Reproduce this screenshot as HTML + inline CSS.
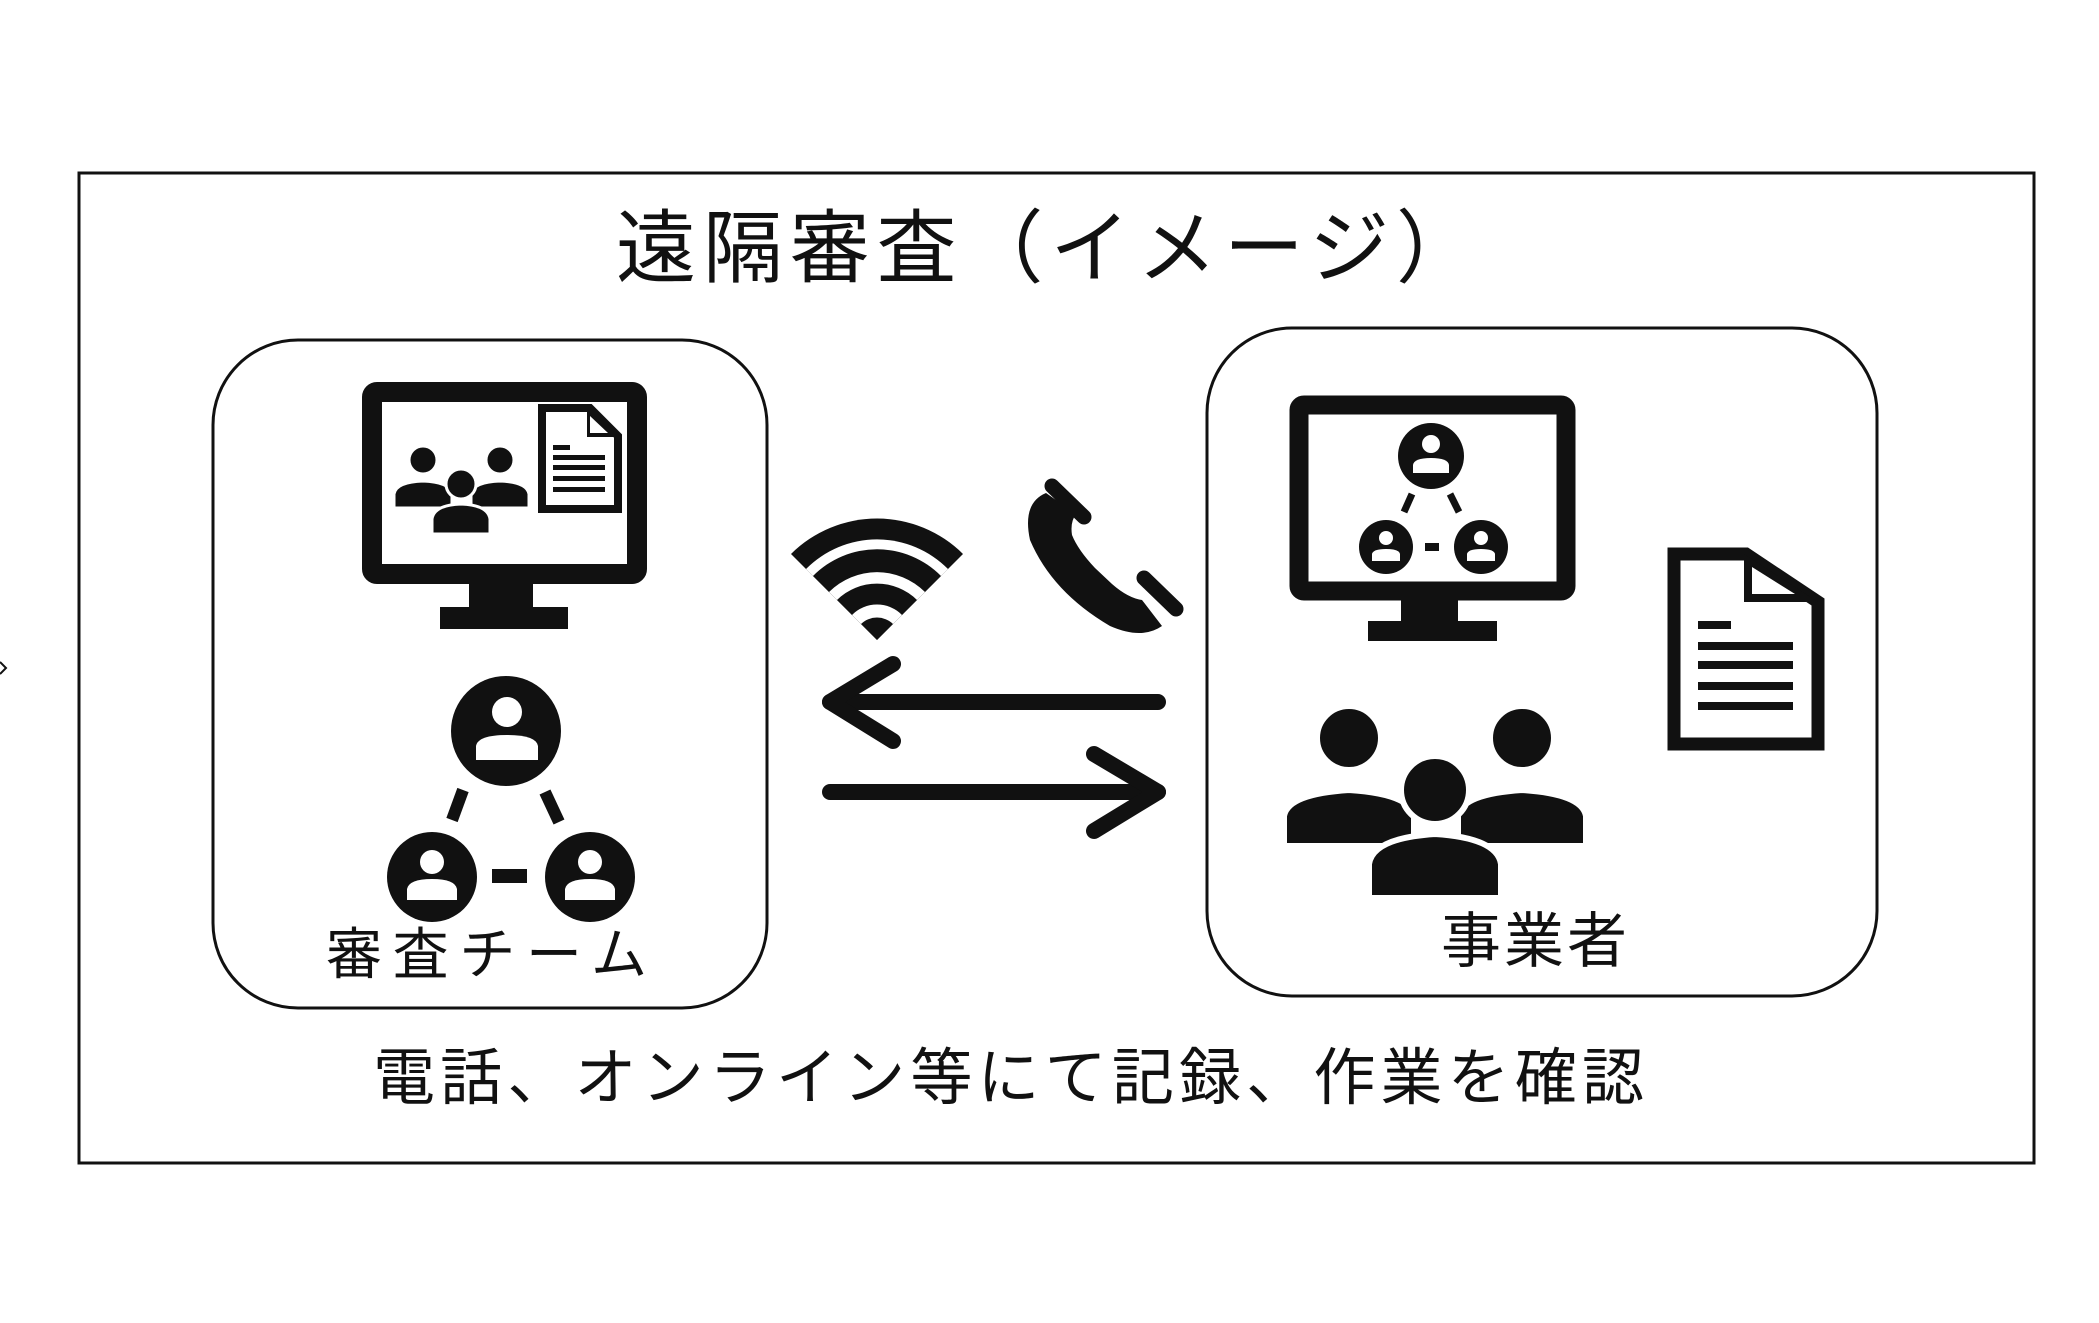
<!DOCTYPE html>
<html><head><meta charset="utf-8"><style>
html,body{margin:0;padding:0;background:#fff;}
svg{display:block;}
text{font-family:"Liberation Sans","Noto Sans CJK JP",sans-serif;fill:#111;}
</style></head><body>
<svg width="2099" height="1323" viewBox="0 0 2099 1323" xmlns="http://www.w3.org/2000/svg">
<rect x="0" y="0" width="2099" height="1323" fill="#fff"/>
<rect x="79" y="173" width="1955" height="990" fill="none" stroke="#111" stroke-width="3"/>
<path d="M0,662 L6,668 L0,674" fill="none" stroke="#111" stroke-width="2"/>
<text x="616" y="276" font-size="80" textLength="860" lengthAdjust="spacing">遠隔審査（イメージ）</text>

<rect x="213" y="340" width="554" height="668" rx="85" fill="none" stroke="#111" stroke-width="3"/>
<rect x="372" y="392" width="265" height="182" rx="5" fill="none" stroke="#111" stroke-width="20"/>
<rect x="469" y="583" width="64" height="26" fill="#111"/>
<rect x="440" y="607" width="128" height="22" fill="#111"/>
<path d="M542,408 L590,408 L618,436 L618,509 L542,509 Z" fill="#fff" stroke="#111" stroke-width="8"/>
<path d="M587,408 L587,437 L618,437 Z" fill="#111"/>
<path d="M590,416 L590,433 L608,433 Z" fill="#fff"/>
<g fill="#111"><rect x="553" y="445" width="17" height="5"/><rect x="553" y="455" width="52" height="5"/><rect x="553" y="465" width="52" height="5"/><rect x="553" y="476" width="52" height="5"/><rect x="553" y="487" width="52" height="5"/></g>
<g fill="#111" stroke="#fff" stroke-width="3">
<circle cx="423" cy="460" r="14"/><path d="M394,508 L394,494 Q396,482 423,481 Q450,482 452,494 L452,508 Z"/>
<circle cx="500" cy="460" r="14"/><path d="M471,508 L471,494 Q473,482 500,481 Q527,482 529,494 L529,508 Z"/>
<circle cx="461" cy="484" r="15"/><path d="M432,534 L432,519 Q434,505 461,504 Q488,505 490,519 L490,534 Z"/>
</g>
<g fill="#111">
<circle cx="506" cy="731" r="55"/><circle cx="432" cy="877" r="45"/><circle cx="590" cy="877" r="45"/>
<rect x="492" y="869" width="35" height="14"/>
</g>
<g stroke="#111" stroke-width="12"><line x1="463" y1="790" x2="452" y2="820"/><line x1="545" y1="792" x2="559" y2="822"/></g>
<g fill="#fff">
<circle cx="507" cy="712" r="15"/><path d="M476,760 L476,746 Q478,735 507,735 Q536,735 538,746 L538,760 Z"/>
<circle cx="432" cy="862" r="12"/><path d="M407,900 L407,889 Q409,879 432,879 Q455,879 457,889 L457,900 Z"/>
<circle cx="590" cy="862" r="12"/><path d="M565,900 L565,889 Q567,879 590,879 Q613,879 615,889 L615,900 Z"/>
</g>
<text x="326" y="974" font-size="56" textLength="321" lengthAdjust="spacing">審査チーム</text>

<path d="M877,640 L791,554 A122,122 0 0 1 963,554 Z" fill="#111"/>
<path d="M877,640 L806,569 A100,100 0 0 1 948,569 Z" fill="#fff"/>
<path d="M877,640 L813,576 A90,90 0 0 1 941,576 Z" fill="#111"/>
<path d="M877,640 L829,592 A68,68 0 0 1 925,592 Z" fill="#fff"/>
<path d="M877,640 L837,600 A57,57 0 0 1 917,600 Z" fill="#111"/>
<path d="M877,640 L852,615 A35,35 0 0 1 902,615 Z" fill="#fff"/>
<path d="M877,640 L861,624 A23,23 0 0 1 893,624 Z" fill="#111"/>

<path d="M1046,493 Q1022,503 1030,540 Q1052,592 1110,626 Q1142,640 1162,626 L1142,600 Q1128,598 1112,584 L1095,568 Q1078,550 1072,535 Q1070,522 1076,514 Z" fill="#111"/>
<line x1="1052" y1="486" x2="1084" y2="517" stroke="#111" stroke-width="15" stroke-linecap="round"/>
<line x1="1144" y1="578" x2="1176" y2="609" stroke="#111" stroke-width="15" stroke-linecap="round"/>

<g stroke="#111" stroke-width="16" stroke-linecap="round" stroke-linejoin="round" fill="none">
<line x1="830" y1="702" x2="1158" y2="702"/>
<polyline points="893,664 830,702 893,741"/>
<line x1="830" y1="792" x2="1158" y2="792"/>
<polyline points="1094,754 1158,792 1094,831"/>
</g>

<rect x="1207" y="328" width="670" height="668" rx="85" fill="none" stroke="#111" stroke-width="3"/>
<rect x="1299" y="405" width="267" height="186" rx="5" fill="none" stroke="#111" stroke-width="19"/>
<rect x="1401" y="599" width="57" height="24" fill="#111"/>
<rect x="1368" y="621" width="129" height="20" fill="#111"/>
<g fill="#111">
<circle cx="1431" cy="456" r="33"/><circle cx="1386" cy="547" r="27"/><circle cx="1481" cy="547" r="27"/>
<rect x="1425" y="543" width="14" height="8"/>
</g>
<g stroke="#111" stroke-width="7"><line x1="1412" y1="494" x2="1404" y2="512"/><line x1="1450" y1="494" x2="1459" y2="512"/></g>
<g fill="#fff">
<circle cx="1431" cy="444" r="9"/><path d="M1413,473 L1413,465 Q1414,458 1431,458 Q1448,458 1449,465 L1449,473 Z"/>
<circle cx="1386" cy="538" r="7"/><path d="M1372,561 L1372,554 Q1373,549 1386,549 Q1399,549 1400,554 L1400,561 Z"/>
<circle cx="1481" cy="538" r="7"/><path d="M1467,561 L1467,554 Q1468,549 1481,549 Q1494,549 1495,554 L1495,561 Z"/>
</g>
<path d="M1674,554 L1746,554 L1818,602 L1818,744 L1674,744 Z" fill="#fff" stroke="#111" stroke-width="13"/>
<path d="M1744,554 L1744,602 L1818,602 Z" fill="#111"/>
<path d="M1752,567 L1752,594 L1795,594 Z" fill="#fff"/>
<g fill="#111"><rect x="1698" y="621" width="33" height="8"/><rect x="1698" y="642" width="95" height="8"/><rect x="1698" y="661" width="95" height="8"/><rect x="1698" y="682" width="95" height="8"/><rect x="1698" y="702" width="95" height="8"/></g>
<g fill="#111" stroke="#fff" stroke-width="6">
<circle cx="1349" cy="738" r="32"/><path d="M1284,846 L1284,816 Q1288,794 1349,790 Q1410,794 1414,816 L1414,846 Z"/>
<circle cx="1522" cy="738" r="32"/><path d="M1458,846 L1458,816 Q1462,794 1522,790 Q1582,794 1586,816 L1586,846 Z"/>
<circle cx="1435" cy="790" r="34"/><path d="M1369,898 L1369,864 Q1373,838 1435,834 Q1497,838 1501,864 L1501,898 Z"/>
</g>
<text x="1441" y="962" font-size="60" textLength="186" lengthAdjust="spacing">事業者</text>

<text x="373" y="1099" font-size="62" textLength="1271" lengthAdjust="spacing">電話、オンライン等にて記録、作業を確認</text>
</svg>
</body></html>
